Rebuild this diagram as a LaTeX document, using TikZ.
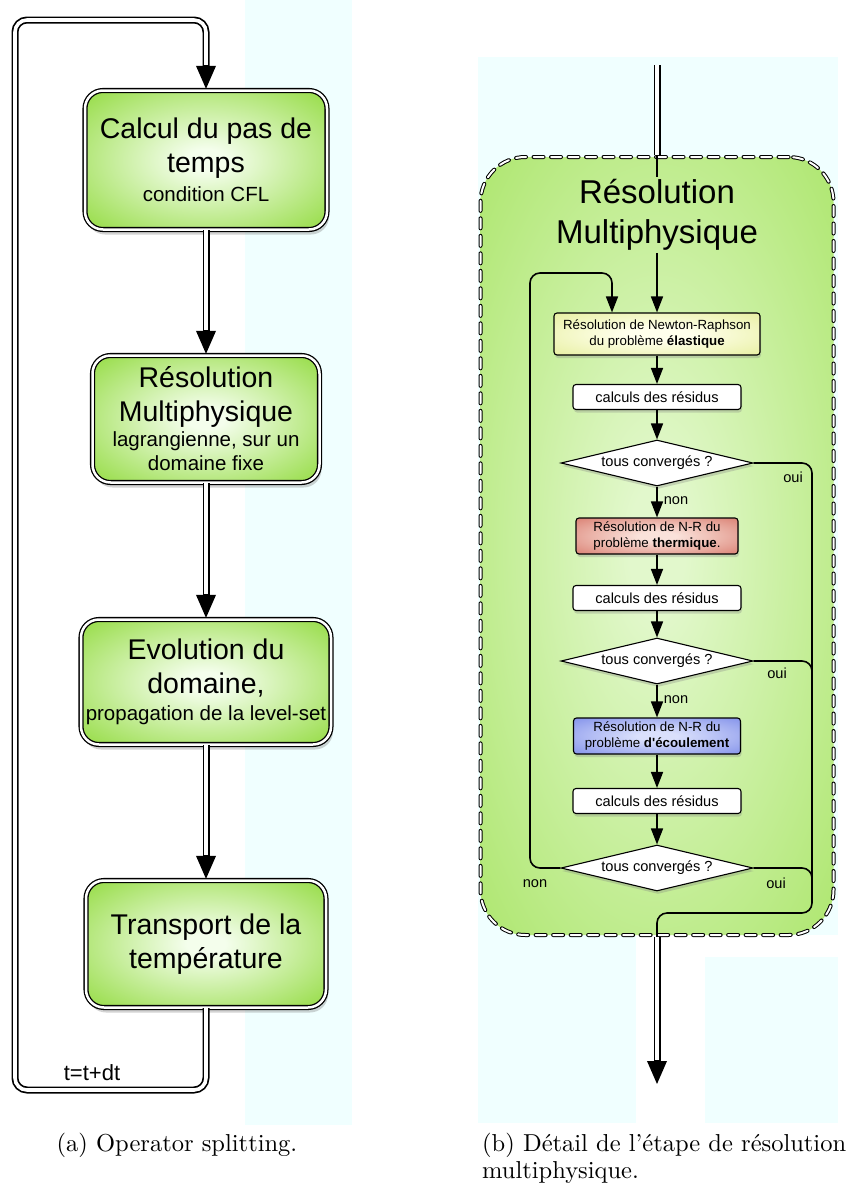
\documentclass[tikz,border=0pt]{standalone}
\usepackage{fontspec}
\newfontfamily\helv{Liberation Sans}
\newfontfamily\capfont{lmroman10-regular}[Extension=.otf, Ligatures=TeX]
\usetikzlibrary{arrows.meta,positioning,shapes.geometric,shadows,calc}
\definecolor{stepgreen}{RGB}{150,220,70}
\definecolor{stepgreenlt}{RGB}{244,254,236}
\definecolor{boxgreen}{RGB}{170,229,104}
\definecolor{boxgreenlt}{RGB}{226,248,204}
\definecolor{nryellow}{RGB}{226,236,145}
\definecolor{nryellowlt}{RGB}{255,255,236}
\definecolor{thred}{RGB}{214,116,102}
\definecolor{thredlt}{RGB}{250,226,218}
\definecolor{flblue}{RGB}{120,136,232}
\definecolor{flbluelt}{RGB}{218,224,252}
\definecolor{bgcyan}{RGB}{240,255,255}

\pgfdeclareradialshading{stepglow}{\pgfpoint{0bp}{0bp}}{color(0bp)=(stepgreenlt); color(4bp)=(stepgreenlt); color(35bp)=(stepgreen); color(50bp)=(stepgreen)}
\pgfdeclareradialshading{boxglow}{\pgfpoint{0bp}{0bp}}{color(0bp)=(boxgreenlt); color(4bp)=(boxgreenlt); color(38bp)=(boxgreen); color(50bp)=(boxgreen)}
\pgfdeclareradialshading{nrglow}{\pgfpoint{0bp}{0bp}}{color(0bp)=(nryellowlt); color(8bp)=(nryellowlt); color(42bp)=(nryellow); color(50bp)=(nryellow)}
\pgfdeclareradialshading{thglow}{\pgfpoint{0bp}{0bp}}{color(0bp)=(thredlt); color(6bp)=(thredlt); color(40bp)=(thred); color(50bp)=(thred)}
\pgfdeclareradialshading{flglow}{\pgfpoint{0bp}{0bp}}{color(0bp)=(flbluelt); color(6bp)=(flbluelt); color(40bp)=(flblue); color(50bp)=(flblue)}

\newcommand{\subtxt}[1]{{\fontsize{20.5}{24}\selectfont #1}}

\tikzset{
  stepbox/.style={rectangle, rounded corners=18pt, draw=black, line width=1.3pt,
    double=white, double distance=2.5pt, shading=stepglow, align=center, inner sep=2pt,
    font=\helv\fontsize{28.5}{34}\selectfont,
    drop shadow={opacity=0.35, shadow xshift=2pt, shadow yshift=-5pt}},
  dblline/.style={line width=7pt, postaction={draw=white, line width=3.6pt}},
  dblarrow/.style={line width=7pt, -{Triangle[length=24pt,width=18pt]},
    postaction={draw=white, line width=3.6pt, -, shorten >=25pt}},
  mpbox/.style={rectangle, rounded corners=45pt, shading=boxglow,
    draw=black, line width=4pt, line cap=round, dash pattern=on 10pt off 7.5pt,
    postaction={draw=white, line width=2pt, line cap=round, dash pattern=on 10pt off 7.5pt}},
  smallbox/.style={rectangle, rounded corners=3pt, draw=black, line width=1.1pt,
    align=center, inner sep=1pt, font=\helv\fontsize{13.3}{16}\selectfont,
    drop shadow={opacity=0.3, shadow xshift=1pt, shadow yshift=-3pt}},
  resbox/.style={smallbox, fill=white, minimum width=168pt, minimum height=25pt,
    font=\helv\fontsize{14.6}{17}\selectfont},
  convbox/.style={diamond, aspect=4, draw=black, line width=1.1pt, fill=white,
    minimum width=192pt, minimum height=46pt, inner sep=0pt,
    font=\helv\fontsize{14.6}{17}\selectfont,
    drop shadow={opacity=0.3, shadow xshift=1pt, shadow yshift=-3pt}},
  flow/.style={line width=1.6pt, -{Triangle[length=16pt,width=12pt]}},
  link/.style={line width=1.6pt, rounded corners=10pt},
  lbl/.style={font=\helv\fontsize{14.6}{17}\selectfont, inner sep=1pt},
  caption/.style={font=\capfont\fontsize{24.5}{27}\selectfont, inner sep=0pt},
}

\begin{document}
\begin{tikzpicture}[x=1pt,y=-1pt]
  \useasboundingbox (0,0) rectangle (849,1191);
  % light backdrop
  \fill[bgcyan] (245,0) rectangle (352,1125);
  \fill[bgcyan] (478,57) rectangle (838,935);
  \fill[bgcyan] (478,935) rectangle (636,1123);
  \fill[bgcyan] (705,957) rectangle (838,1123);

  % (a) operator splitting
  \node[stepbox, minimum width=242pt, minimum height=139pt] (pas) at (206,160)
    {Calcul du pas de\\temps\\[-5pt]\subtxt{condition CFL}};
  \node[stepbox, minimum width=227pt, minimum height=127pt] (multi) at (206,419)
    {Résolution\\Multiphysique\\[-9pt]\subtxt{lagrangienne, sur un}\\[-10pt]\subtxt{domaine fixe}};
  \node[stepbox, minimum width=250pt, minimum height=125pt] (evol) at (206,682)
    {Evolution du\\domaine,\\[-7pt]\subtxt{propagation de la level-set}};
  \node[stepbox, minimum width=240pt, minimum height=127pt] (transp) at (206,944)
    {Transport de la\\température};

  \draw[dblarrow] (pas) -- (multi);
  \draw[dblarrow] (multi) -- (evol);
  \draw[dblarrow] (evol) -- (transp);

  \coordinate (lb) at (15,1090);
  \coordinate (lt) at (15,20);
  \draw[dblarrow, rounded corners=12pt] (transp.south) |- (lb) -- (lt) -| (pas.north);
  \node[font=\helv\fontsize{22}{26}\selectfont, inner sep=0pt] (dt) at (92,1073) {t=t+dt};

  % (b) multiphysics solve
  \node[mpbox, minimum width=353pt, minimum height=778pt] (mp) at (657,546) {};
  \node[font=\helv\fontsize{33}{40}\selectfont, align=center, inner sep=2pt] (mptitle) at (657,215)
    {Résolution\\Multiphysique};

  \node[smallbox, shading=nrglow, minimum width=206pt, minimum height=42pt] (nr) at (657,334)
    {Résolution de Newton-Raphson\\du problème \textbf{élastique}};
  \node[smallbox, shading=thglow, minimum width=162pt, minimum height=36pt] (th) at (657,536)
    {Résolution de N-R du\\problème \textbf{thermique}.};
  \node[smallbox, shading=flglow, minimum width=167pt, minimum height=36pt] (fl) at (657,736)
    {Résolution de N-R du\\problème \textbf{d'écoulement}};
  \foreach \i/\ry/\cy in {1/397/463, 2/598/661, 3/801/868} {
    \node[resbox] (res\i) at (657,\ry) {calculs des résidus};
    \node[convbox] (conv\i) at (657,\cy) {tous convergés ?};
    \draw[flow] (res\i) -- (conv\i);
  }

  \coordinate (in) at (657,65);
  \coordinate (out) at (657,1085);
  \draw[dblline] (in) -- (mp.north);
  \draw[line width=1.6pt] (mp.north) -- (mptitle.north);
  \draw[flow] (mptitle.south) -- (nr.north);
  \draw[flow] (nr) -- (res1);
  \draw[flow] (conv1) -- node[lbl, right=5pt, pos=0.45] (non1) {non} (th);
  \draw[flow] (th) -- (res2);
  \draw[flow] (conv2) -- node[lbl, right=5pt, pos=0.45] (non2) {non} (fl);
  \draw[flow] (fl) -- (res3);

  % loop back when not converged
  \coordinate (lpa) at (530,273);
  \coordinate (lpb) at (612,273);
  \draw[flow, rounded corners=10pt] (conv3.west) -| (lpa) -- (lpb) -- (lpb |- nr.north);
  \node[lbl] (non3) at (535,884) {non};

  % converged: leave the box
  \coordinate (joinr) at (812,913);
  \draw[link] (conv1.east) -| (joinr) -| (mp.south);
  \draw[link] (conv2.east) -| (812,700);
  \draw[link] (conv3.east) -| (812,900);
  \node[lbl] (oui1) at (793,477) {oui};
  \node[lbl] (oui2) at (777,673) {oui};
  \node[lbl] (oui3) at (776,883) {oui};
  \draw[dblarrow] (mp.south) -- (out);

  % captions
  \node[caption] (capa) at (177,1145) {(a) Operator splitting.};
  \node[caption, anchor=west, align=left] (capb) at (482,1158)
    {(b) Détail de l'étape de résolution\\multiphysique.};
\end{tikzpicture}
\end{document}
